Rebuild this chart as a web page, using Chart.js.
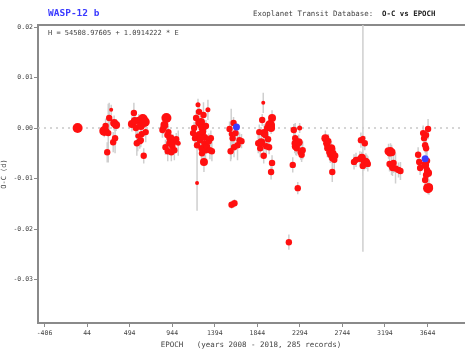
<!DOCTYPE html>
<html>
<head>
<meta charset="utf-8">
<script src="https://cdn.jsdelivr.net/npm/chart.js@4"></script>
<style>
  body { margin: 0; background: #fff; }
  #wrap { position: relative; width: 469px; height: 353px; }
  .txt { position: absolute; font-family: "DejaVu Sans Mono", monospace; color: #444; white-space: pre; }
  #planet { left: 48px; top: 7px; font-size: 9.5px; font-weight: bold; color: #3a3aff; }
  #etd { left: 253px; top: 9px; font-size: 7.4px; }
  #etd b { color: #222; }
  #ephem { left: 48px; top: 29px; font-size: 7px; }
</style>
</head>
<body>
<div id="wrap">
  <canvas id="ocChart" width="469" height="353"></canvas>
  <div class="txt" id="planet">WASP-12 b</div>
  <div class="txt" id="etd">Exoplanet Transit Database:  <b>O-C vs EPOCH</b></div>
  <div class="txt" id="ephem">H = 54508.97605 + 1.0914222 * E</div>
</div>
<script>
// axis ticks
const xTicks = [-406, 44, 494, 944, 1394, 1844, 2294, 2744, 3194, 3644];
const yTicks = [0.02, 0.01, 0, -0.01, -0.02, -0.03];

// transit records (red): epoch, O-C [d], error [d], data quality 1..5
const epochs = [
  -56,
  226, 240, 257, 268, 278, 299, 320, 330, 340, 351,
  518, 539, 549, 560, 570, 580, 591, 601, 612, 612, 622, 633, 643, 654, 664,
  841, 852, 862, 873, 883, 893, 897, 904, 914, 925, 935, 946, 956, 967, 987, 1008,
  1165, 1176, 1186, 1197, 1207, 1207, 1217, 1222, 1228, 1233, 1238, 1244, 1249, 1254, 1259,
  1265, 1270, 1275, 1280, 1285, 1290, 1296, 1301, 1311, 1322, 1332, 1343, 1353, 1364,
  1551, 1562, 1568, 1572, 1583, 1593, 1598, 1603, 1614, 1635, 1656, 1677,
  1854, 1865, 1875, 1886, 1896, 1907, 1912, 1917, 1927, 1938, 1948, 1958, 1969, 1979, 1990, 1990, 2000, 2000,
  2178, 2219, 2230, 2240, 2245, 2251, 2261, 2272, 2282, 2292, 2303, 2313, 2324,
  2564, 2574, 2585, 2585, 2595, 2606, 2616, 2627, 2637, 2637, 2648, 2658, 2668,
  2867, 2888, 2929, 2940, 2950, 2960, 2961, 2971, 2981, 2992, 3003, 3013,
  3232, 3243, 3243, 3253, 3264, 3264, 3274, 3285, 3306, 3337, 3358,
  3545, 3556, 3566, 3598, 3608, 3619, 3619, 3619, 3629, 3629, 3629, 3639, 3639, 3650, 3650, 3650, 3660
];
const ocValues = [
  0.0000,
  -0.0006, 0.0004, -0.0048, -0.0010, 0.0020, 0.0036, -0.0028, 0.0010, -0.0020, 0.0006,
  0.0008, 0.0030, 0.0014, 0.0000, -0.0030, -0.0016, 0.0016, -0.0026, 0.0004, -0.0024, -0.0012, 0.0018, -0.0055, 0.0012, -0.0008,
  -0.0004, 0.0000, 0.0006, -0.0038, 0.0020, -0.0014, -0.0046, -0.0008, -0.0030, -0.0020, -0.0048, -0.0036, -0.0028, -0.0044, -0.0022, -0.0030,
  -0.0010, 0.0000, -0.0020, 0.0020, -0.0109, -0.0034, 0.0046, 0.0010, 0.0032, -0.0014, -0.0024, 0.0006, 0.0012, -0.0040, -0.0050,
  0.0000, -0.0008, 0.0026, -0.0067, -0.0030, -0.0018, -0.0044, 0.0004, -0.0036, 0.0036, -0.0026, -0.0044, -0.0020, -0.0046,
  -0.0002, -0.0046, -0.0012, -0.0152, -0.0020, 0.0010, -0.0038, -0.0149, -0.0010, -0.0034, -0.0024, -0.0026,
  -0.0030, -0.0008, -0.0040, -0.0028, 0.0016, 0.0050, -0.0055, -0.0010, -0.0014, -0.0036, 0.0000, -0.0022, -0.0038, 0.0006, -0.0087, 0.0000, 0.0020, -0.0069,
  -0.0226, -0.0073, -0.0004, -0.0030, -0.0020, -0.0036, -0.0040, -0.0119, -0.0028, 0.0000, -0.0048, -0.0053, -0.0044,
  -0.0020, -0.0030, -0.0040, -0.0034, -0.0026, -0.0048, -0.0053, -0.0040, -0.0060, -0.0087, -0.0050, -0.0063, -0.0055,
  -0.0067, -0.0063, -0.0061, -0.0024, -0.0059, -0.0075, -0.0020, -0.0069, -0.0030, -0.0065, -0.0067, -0.0071,
  -0.0046, -0.0050, -0.0071, -0.0044, -0.0048, -0.0075, -0.0079, -0.0069, -0.0080, -0.0083, -0.0085,
  -0.0053, -0.0067, -0.0079, -0.0010, -0.0020, -0.0034, -0.0073, -0.0103, -0.0014, -0.0040, -0.0093, -0.0083, -0.0065, -0.0002, -0.0089, -0.0119, -0.0117
];
const ocErrors = [
  0.0005,
  0.0012, 0.0015, 0.0020, 0.0058, 0.0030, 0.0010, 0.0020, 0.0015, 0.0030, 0.0012,
  0.0015, 0.0020, 0.0012, 0.0018, 0.0025, 0.0030, 0.0012, 0.0015, 0.0010, 0.0014, 0.0014, 0.0010, 0.0015, 0.0012, 0.0020,
  0.0015, 0.0012, 0.0012, 0.0015, 0.0010, 0.0018, 0.0020, 0.0012, 0.0014, 0.0015, 0.0018, 0.0014, 0.0015, 0.0020, 0.0012, 0.0025,
  0.0015, 0.0012, 0.0018, 0.0015, 0.0055, 0.0020, 0.0012, 0.0010, 0.0015, 0.0015, 0.0012, 0.0010, 0.0012, 0.0020, 0.0015,
  0.0010, 0.0015, 0.0025, 0.0020, 0.0015, 0.0012, 0.0018, 0.0012, 0.0015, 0.0020, 0.0015, 0.0018, 0.0015, 0.0020,
  0.0015, 0.0020, 0.0050, 0.0008, 0.0014, 0.0012, 0.0020, 0.0008, 0.0016, 0.0030, 0.0015, 0.0014,
  0.0020, 0.0015, 0.0018, 0.0015, 0.0012, 0.0020, 0.0015, 0.0018, 0.0015, 0.0020, 0.0012, 0.0015, 0.0014, 0.0012, 0.0015, 0.0012, 0.0015, 0.0015,
  0.0015, 0.0015, 0.0012, 0.0020, 0.0030, 0.0018, 0.0015, 0.0012, 0.0015, 0.0010, 0.0015, 0.0014, 0.0018,
  0.0015, 0.0015, 0.0018, 0.0012, 0.0014, 0.0015, 0.0016, 0.0014, 0.0018, 0.0020, 0.0015, 0.0020, 0.0014,
  0.0015, 0.0014, 0.0015, 0.0015, 0.0012, 0.0020, 0.0225, 0.0015, 0.0014, 0.0015, 0.0014, 0.0015,
  0.0015, 0.0012, 0.0015, 0.0014, 0.0015, 0.0018, 0.0016, 0.0020, 0.0030, 0.0015, 0.0018,
  0.0015, 0.0015, 0.0014, 0.0015, 0.0012, 0.0015, 0.0015, 0.0012, 0.0015, 0.0014, 0.0015, 0.0014, 0.0020, 0.0020, 0.0015, 0.0012, 0.0015
];
const quality = [
  1,
  1, 3, 3, 3, 3, 5, 3, 2, 3, 2,
  2, 3, 2, 3, 3, 4, 3, 3, 2, 3, 3, 1, 3, 1, 3,
  3, 3, 2, 3, 1, 3, 3, 3, 3, 2, 3, 3, 3, 3, 3, 4,
  3, 3, 3, 3, 5, 3, 4, 3, 3, 2, 3, 3, 2, 3, 3,
  2, 3, 3, 2, 3, 3, 3, 3, 3, 4, 3, 3, 3, 3,
  3, 3, 4, 3, 3, 3, 3, 3, 3, 3, 3, 3,
  3, 3, 3, 2, 3, 5, 3, 2, 3, 3, 3, 3, 3, 1, 3, 2, 2, 3,
  3, 3, 3, 3, 3, 2, 3, 3, 2, 4, 3, 3, 3,
  2, 3, 3, 3, 3, 3, 3, 2, 3, 3, 3, 3, 3,
  3, 3, 3, 3, 2, 3, 4, 3, 3, 3, 3, 3,
  2, 3, 3, 3, 2, 3, 3, 3, 3, 3, 3,
  3, 3, 3, 3, 3, 3, 2, 3, 3, 3, 3, 3, 3, 3, 2, 1, 2
];

// blue records
const blueEpochs = [1624, 3619];
const blueValues = [0.0002, -0.0061];

const xMin = -475, xMax = 4030;
const yMin = -0.0386, yMax = 0.0204;

const radiusFor = q => [5, 4, 3.2, 2.5, 2][q - 1];

const redPoints = epochs.map((e, i) => ({ x: e, y: ocValues[i] }));
const bluePoints = blueEpochs.map((e, i) => ({ x: e, y: blueValues[i] }));
const errorSegments = [];
epochs.forEach((e, i) => {
  errorSegments.push({ x: e, y: ocValues[i] - ocErrors[i] });
  errorSegments.push({ x: e, y: ocValues[i] + ocErrors[i] });
  errorSegments.push({ x: e, y: null });
});

const tickFont = { family: "DejaVu Sans Mono", size: 6.5 };
const axisGray = '#8a8a8a';

new Chart(document.getElementById('ocChart'), {
  type: 'scatter',
  data: {
    datasets: [
      {
        data: bluePoints,
        backgroundColor: '#3b3bff',
        borderWidth: 0,
        pointRadius: 3.5,
        order: 0
      },
      {
        data: redPoints,
        backgroundColor: '#ff1010',
        borderWidth: 0,
        pointRadius: quality.map(radiusFor),
        order: 1
      },
      {
        type: 'line',
        data: errorSegments,
        borderColor: '#cfcfcf',
        borderWidth: 1.5,
        pointRadius: 0,
        spanGaps: false,
        order: 2
      },
      {
        type: 'line',
        data: [{ x: xMin, y: 0 }, { x: xMax, y: 0 }],
        borderColor: '#c8c8c8',
        borderWidth: 1.5,
        borderDash: [2, 4],
        pointRadius: 0,
        order: 3
      }
    ]
  },
  options: {
    responsive: false,
    animation: false,
    layout: { padding: { top: 25, right: 0, left: 0, bottom: 0 } },
    plugins: { legend: { display: false }, tooltip: { enabled: false } },
    scales: {
      x: {
        type: 'linear',
        position: 'bottom',
        min: xMin,
        max: xMax,
        afterBuildTicks: s => { s.ticks = xTicks.map(v => ({ value: v })); },
        afterFit: s => { s.height = 30; },
        grid: { drawOnChartArea: false, tickLength: 4, color: axisGray },
        border: { color: axisGray, width: 2 },
        ticks: { font: tickFont, color: '#444', padding: 2, maxRotation: 0, callback: v => String(v) },
        title: {
          display: true,
          text: 'EPOCH   (years 2008 - 2018, 285 records)',
          font: { family: "DejaVu Sans Mono", size: 7.5 },
          color: '#444',
          padding: { top: 0, bottom: 3 }
        }
      },
      xTop: {
        type: 'linear',
        position: 'top',
        min: xMin,
        max: xMax,
        afterFit: s => { s.height = 0; },
        grid: { display: false },
        ticks: { display: false },
        border: { color: axisGray, width: 2 }
      },
      y: {
        min: yMin,
        max: yMax,
        afterBuildTicks: s => { s.ticks = yTicks.map(v => ({ value: v })); },
        afterFit: s => { s.width = 38; },
        grid: { drawOnChartArea: false, tickLength: 4, color: axisGray },
        border: { color: axisGray, width: 2 },
        ticks: { font: tickFont, color: '#444', padding: 1, callback: v => v.toFixed(2) },
        title: {
          display: true,
          text: 'O-C (d)',
          font: { family: "DejaVu Sans Mono", size: 7 },
          color: '#444',
          padding: { top: 0, bottom: 0 }
        }
      }
    }
  }
});
</script>
</body>
</html>
